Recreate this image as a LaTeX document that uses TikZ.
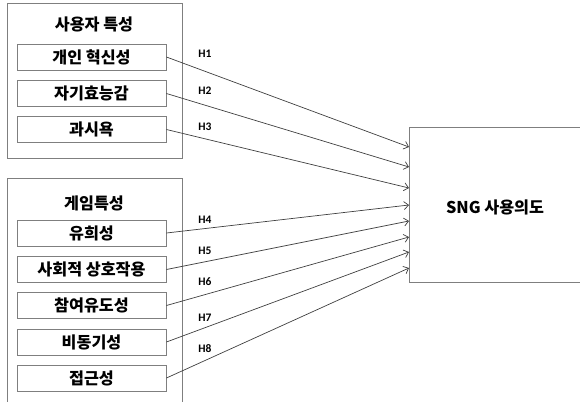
\documentclass[tikz,border=0pt]{standalone}
\usepackage{fontspec}
\setmainfont{Carlito}
\newfontfamily\krfont{Noto Sans CJK KR}
\usetikzlibrary{arrows.meta}
\definecolor{boxgray}{HTML}{7F7F7F}
\definecolor{arrowgray}{HTML}{3F3F3F}
\tikzset{
  groupbox/.style={draw=boxgray, line width=0.9pt, minimum width=175pt, inner sep=0pt},
  itembox/.style={draw=boxgray, line width=0.9pt, minimum width=149pt, minimum height=26pt,
    inner sep=0pt, font=\krfont\bfseries\fontsize{16.2}{18}\selectfont},
  grouptitle/.style={inner sep=0pt, font=\krfont\bfseries\fontsize{16.2}{18}\selectfont},
  hyplabel/.style={inner sep=0pt, font=\bfseries\fontsize{11.5}{13}\selectfont},
  hyparrow/.style={draw=arrowgray, line width=0.7pt, -{Straight Barb[length=4.5pt,width=8pt]}}
}
\newcommand{\myItemBox}[3]{
\node[itembox] (#1) at (91.5,#2) {#3};
}

\begin{document}
\begin{tikzpicture}[x=1pt,y=-1pt]
	\useasboundingbox (0,0) rectangle (580,401);
	% group boxes
	\node[groupbox, minimum height=155pt] (user) at (94.5,80.5) {};
	\node[groupbox, minimum height=232pt] (game) at (94.5,294) {};
	\node[grouptitle] (userT) at (94,24) {사용자 특성};
	\node[grouptitle] (gameT) at (94,203) {게임특성};
	% outcome box
	\node[draw=boxgray, line width=0.9pt, minimum width=182pt, minimum height=155pt,
	  inner sep=0pt] (sng) at (500,204.5) {};
	\node[grouptitle] (sngT) at (495,207) {SNG 사용의도};
	% item boxes
	\myItemBox{innov}{57}{개인 혁신성}
	\myItemBox{effic}{93.5}{자기효능감}
	\myItemBox{show}{129.5}{과시욕}
	\myItemBox{play}{233}{유희성}
	\myItemBox{social}{269.5}{사회적 상호작용}
	\myItemBox{induce}{305.5}{참여유도성}
	\myItemBox{motive}{342}{비동기성}
	\myItemBox{access}{378}{접근성}
	% arrow ends on the outcome box
	\coordinate (e1) at (409,147);
	\coordinate (e2) at (409,167);
	\coordinate (e3) at (409,188);
	\coordinate (e4) at (409,205);
	\coordinate (e5) at (409,221);
	\coordinate (e6) at (409,237);
	\coordinate (e7) at (409,252);
	\coordinate (e8) at (409,268);
	% drawing hypothesis arrows
	\draw[hyparrow] (innov.east) -- (e1);
	\draw[hyparrow] (effic.east) -- (e2);
	\draw[hyparrow] (show.east) -- (e3);
	\draw[hyparrow] (play.east) -- (e4);
	\draw[hyparrow] (social.east) -- (e5);
	\draw[hyparrow] (induce.east) -- (e6);
	\draw[hyparrow] (motive.east) -- (e7);
	\draw[hyparrow] (access.east) -- (e8);
	% hypothesis labels
	\node[hyplabel] (h1) at (205,54) {H1};
	\node[hyplabel] (h2) at (205,91) {H2};
	\node[hyplabel] (h3) at (205,127) {H3};
	\node[hyplabel] (h4) at (205,220) {H4};
	\node[hyplabel] (h5) at (205,251) {H5};
	\node[hyplabel] (h6) at (205,282) {H6};
	\node[hyplabel] (h7) at (205,318) {H7};
	\node[hyplabel] (h8) at (205,349) {H8};
\end{tikzpicture}
\end{document}
